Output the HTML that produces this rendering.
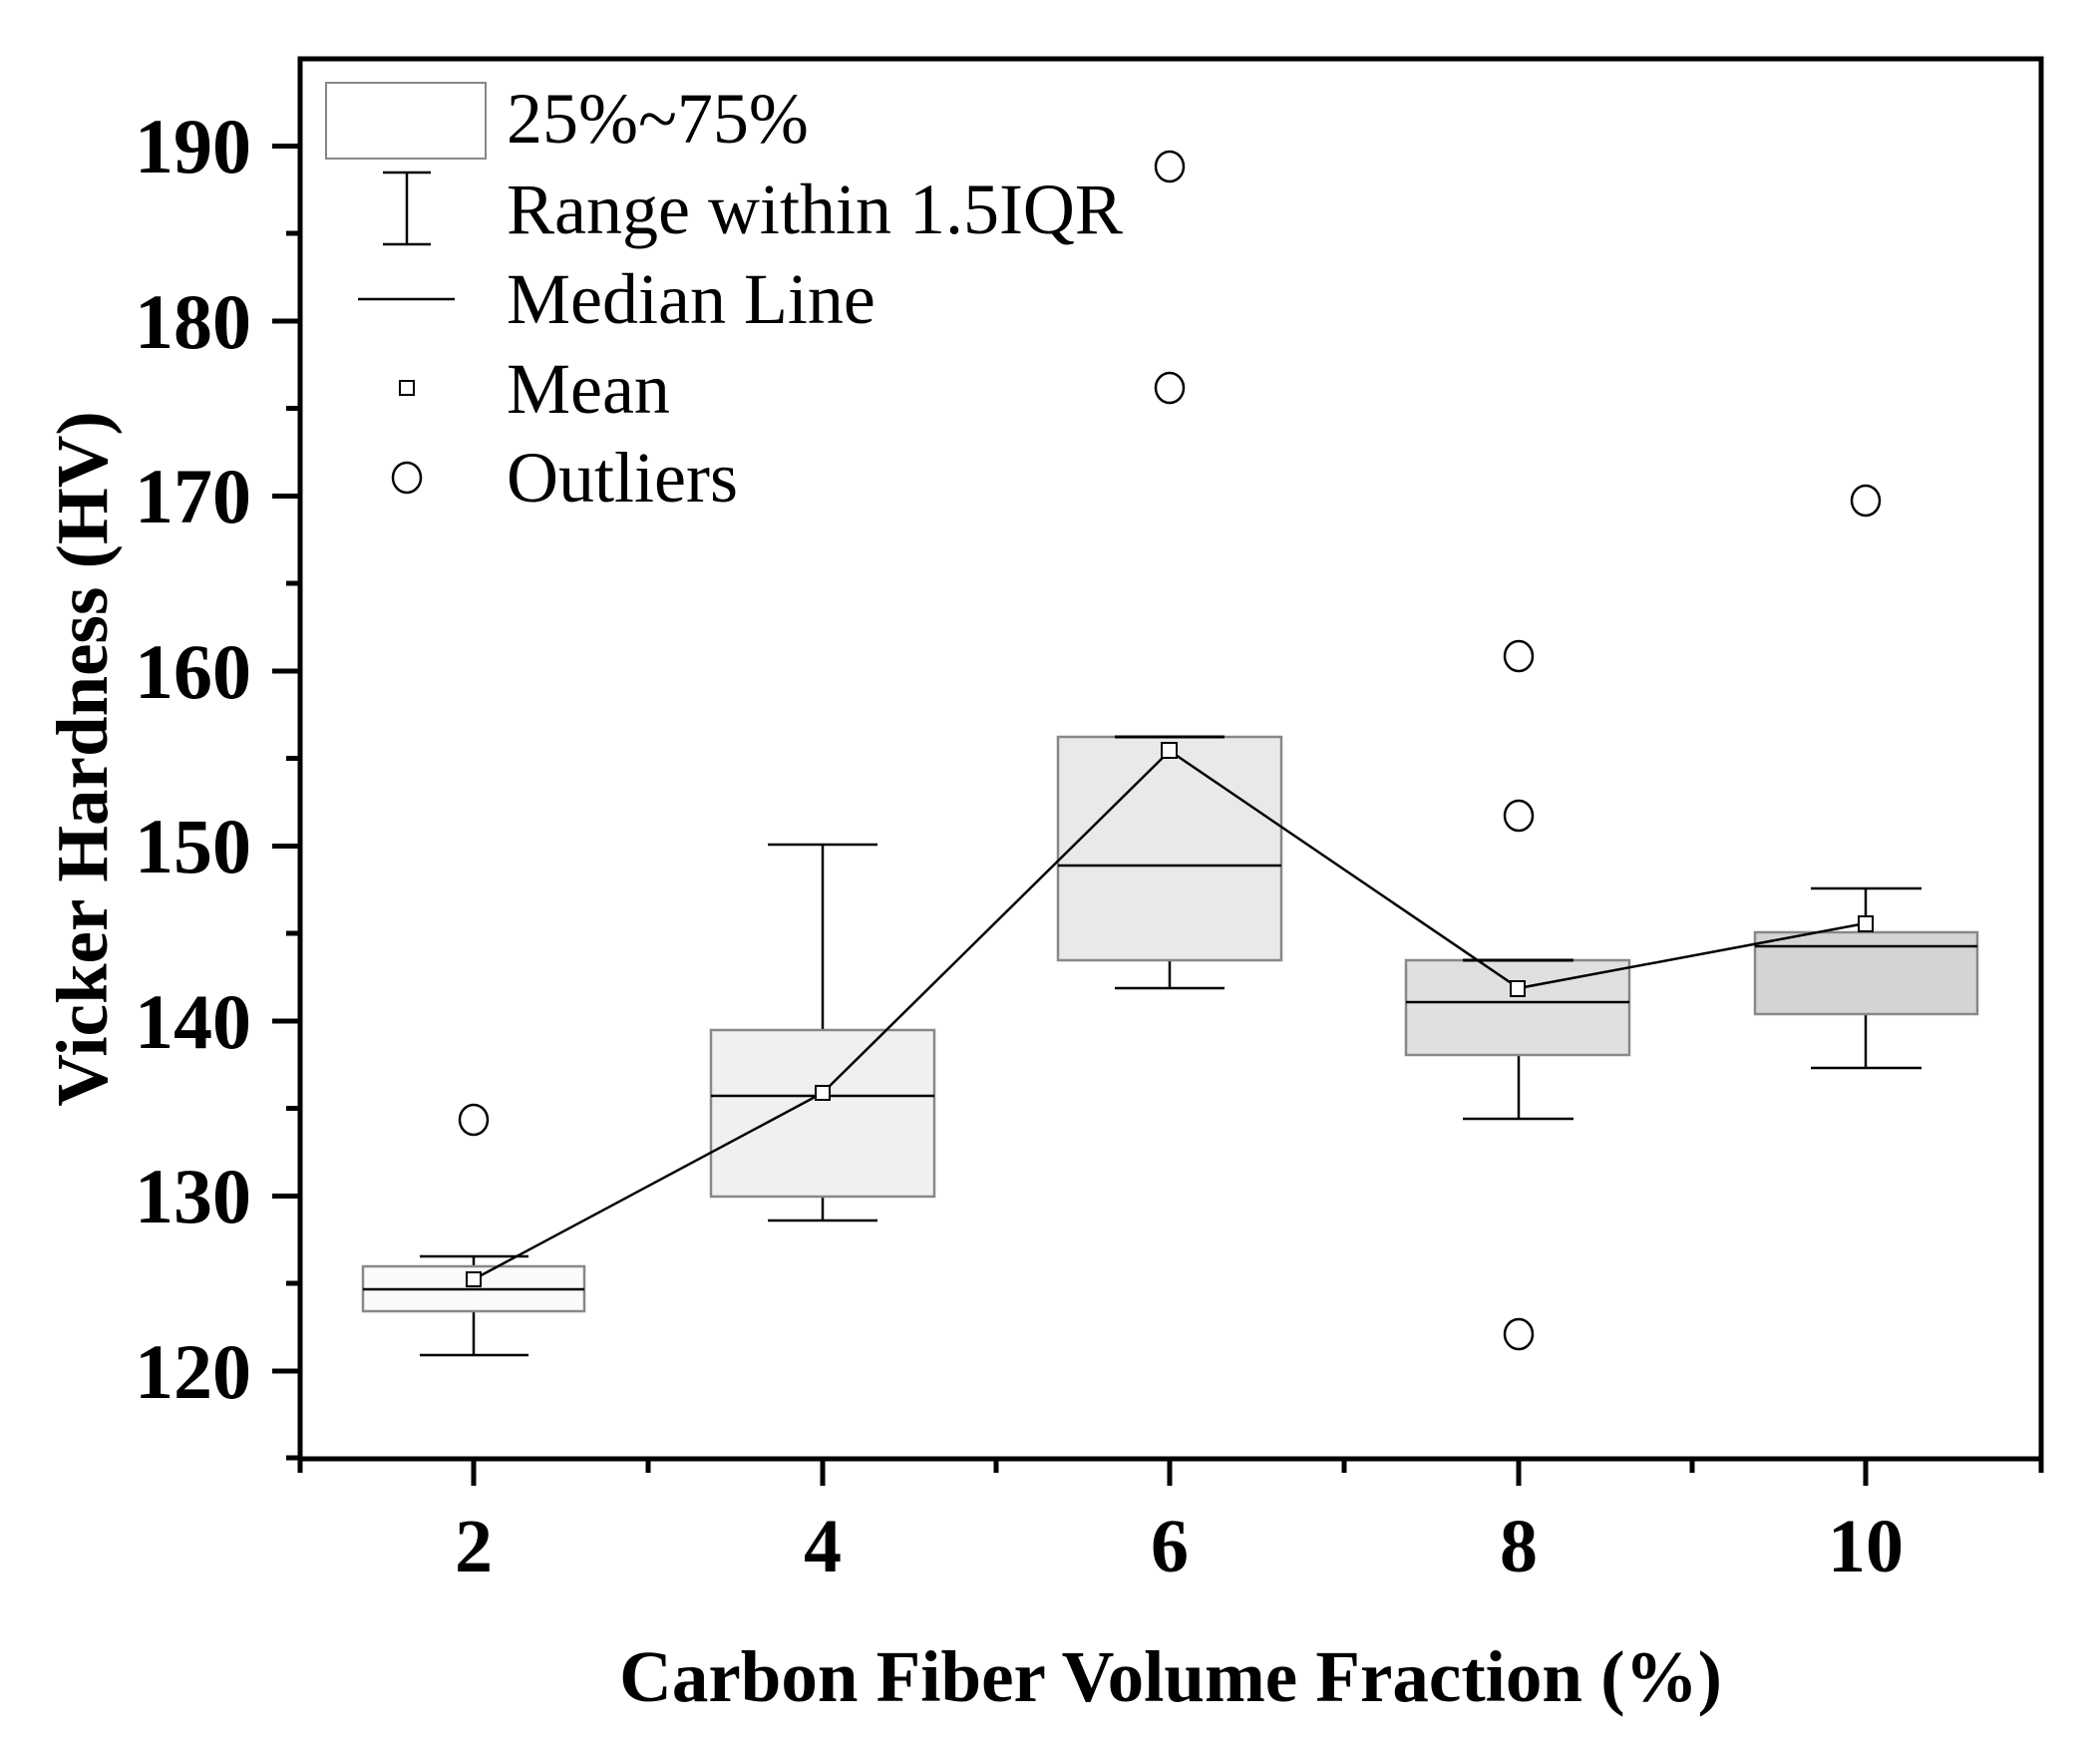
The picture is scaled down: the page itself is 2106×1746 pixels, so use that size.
<!DOCTYPE html>
<html><head><style>html,body{margin:0;padding:0;background:#fff}svg{display:block}</style></head>
<body>
<svg width="2106" height="1746" viewBox="0 0 2106 1746" xmlns="http://www.w3.org/2000/svg" font-family="Liberation Serif, serif">
<rect width="2106" height="1746" fill="#fff"/>
<g stroke="#000" stroke-width="2.5">
<line x1="475" y1="1260" x2="475" y2="1359"/>
<line x1="421" y1="1260" x2="530" y2="1260"/><line x1="421" y1="1359" x2="530" y2="1359"/>
<rect x="364" y="1270" width="222" height="45" fill="#fafafa" stroke="#888"/>
<line x1="364" y1="1293" x2="586" y2="1293"/>
<line x1="825" y1="847" x2="825" y2="1224"/>
<line x1="770" y1="847" x2="880" y2="847"/><line x1="770" y1="1224" x2="880" y2="1224"/>
<rect x="713" y="1033" width="224" height="167" fill="#f0f0f0" stroke="#888"/>
<line x1="713" y1="1099" x2="937" y2="1099"/>
<line x1="1173" y1="963" x2="1173" y2="991"/>
<line x1="1118" y1="991" x2="1228" y2="991"/>
<rect x="1061" y="739" width="224" height="224" fill="#e9e9e9" stroke="#888"/>
<line x1="1118" y1="739" x2="1228" y2="739" stroke-width="3"/>
<line x1="1061" y1="868" x2="1285" y2="868"/>
<line x1="1523" y1="1058" x2="1523" y2="1122"/>
<line x1="1467" y1="1122" x2="1578" y2="1122"/>
<rect x="1410" y="963" width="224" height="95" fill="#e0e0e0" stroke="#888"/>
<line x1="1467" y1="963" x2="1578" y2="963" stroke-width="3"/>
<line x1="1410" y1="1005" x2="1634" y2="1005"/>
<line x1="1871" y1="891" x2="1871" y2="935"/><line x1="1871" y1="1017" x2="1871" y2="1071"/>
<line x1="1816" y1="891" x2="1927" y2="891"/><line x1="1816" y1="1071" x2="1927" y2="1071"/>
<rect x="1760" y="935" width="223" height="82" fill="#d4d4d4" stroke="#888"/>
<line x1="1760" y1="949" x2="1983" y2="949"/>
</g>
<polyline points="475,1283 825,1096 1173,753 1523,991 1871,926" fill="none" stroke="#000" stroke-width="2.5"/>
<g fill="#fff" stroke="#000" stroke-width="2">
<rect x="468" y="1276" width="14" height="14"/>
<rect x="818" y="1089" width="14" height="14"/>
<rect x="1165" y="745" width="15" height="15"/>
<rect x="1515" y="984" width="14" height="15"/>
<rect x="1864" y="919" width="14" height="15"/>
</g>
<g fill="none" stroke="#000" stroke-width="2.5">
<ellipse cx="475" cy="1123" rx="14" ry="15"/>
<ellipse cx="1173" cy="167" rx="14" ry="15"/>
<ellipse cx="1173" cy="389" rx="14" ry="15"/>
<ellipse cx="1523" cy="658" rx="14" ry="15"/>
<ellipse cx="1523" cy="818" rx="14" ry="15"/>
<ellipse cx="1523" cy="1338" rx="14" ry="15"/>
<ellipse cx="1871" cy="502" rx="14" ry="15"/>
</g>
<rect x="301" y="59" width="1746" height="1404" fill="none" stroke="#000" stroke-width="5"/>
<g stroke="#000" stroke-width="5">
<line x1="273" y1="1375" x2="301" y2="1375"/><line x1="273" y1="1199.5" x2="301" y2="1199.5"/>
<line x1="273" y1="1024" x2="301" y2="1024"/><line x1="273" y1="848.5" x2="301" y2="848.5"/>
<line x1="273" y1="673" x2="301" y2="673"/><line x1="273" y1="497.5" x2="301" y2="497.5"/>
<line x1="273" y1="322" x2="301" y2="322"/><line x1="273" y1="146.5" x2="301" y2="146.5"/>
<line x1="287" y1="1287" x2="301" y2="1287"/><line x1="287" y1="1111.5" x2="301" y2="1111.5"/>
<line x1="287" y1="936" x2="301" y2="936"/><line x1="287" y1="760.5" x2="301" y2="760.5"/>
<line x1="287" y1="585" x2="301" y2="585"/><line x1="287" y1="409.5" x2="301" y2="409.5"/>
<line x1="287" y1="234" x2="301" y2="234"/><line x1="287" y1="1462" x2="301" y2="1462"/>
<line x1="475" y1="1463" x2="475" y2="1490"/><line x1="825" y1="1463" x2="825" y2="1490"/>
<line x1="1173" y1="1463" x2="1173" y2="1490"/><line x1="1523" y1="1463" x2="1523" y2="1490"/>
<line x1="1871" y1="1463" x2="1871" y2="1490"/>
<line x1="301" y1="1463" x2="301" y2="1477"/><line x1="650" y1="1463" x2="650" y2="1477"/>
<line x1="999" y1="1463" x2="999" y2="1477"/><line x1="1348" y1="1463" x2="1348" y2="1477"/>
<line x1="1697" y1="1463" x2="1697" y2="1477"/><line x1="2047" y1="1463" x2="2047" y2="1477"/>
</g>
<g font-weight="bold" font-size="78" text-anchor="end">
<text x="252" y="1402">120</text><text x="252" y="1226">130</text><text x="252" y="1051">140</text>
<text x="252" y="875">150</text><text x="252" y="700">160</text><text x="252" y="524">170</text>
<text x="252" y="349">180</text><text x="252" y="173">190</text>
</g>
<g font-weight="bold" font-size="76" text-anchor="middle">
<text x="475" y="1576">2</text><text x="825" y="1576">4</text><text x="1173" y="1576">6</text>
<text x="1523" y="1576">8</text><text x="1871" y="1576">10</text>
</g>
<text x="1174" y="1706" font-weight="bold" font-size="73" text-anchor="middle">Carbon Fiber Volume Fraction (%)</text>
<text transform="translate(107,761) rotate(-90)" font-weight="bold" font-size="73" text-anchor="middle">Vicker Hardness (HV)</text>
<rect x="327" y="83" width="160" height="76" fill="#fff" stroke="#888" stroke-width="2"/>
<g stroke="#000" stroke-width="2.5">
<line x1="408" y1="173" x2="408" y2="245"/><line x1="384" y1="173" x2="432" y2="173"/><line x1="384" y1="245" x2="432" y2="245"/>
<line x1="359" y1="300" x2="456" y2="300"/>
</g>
<rect x="401" y="382" width="14" height="14" fill="#fff" stroke="#000" stroke-width="2"/>
<ellipse cx="408" cy="479" rx="14" ry="15" fill="none" stroke="#000" stroke-width="2.5"/>
<g font-size="72">
<text x="508" y="143">25%~75%</text>
<text x="508" y="234">Range within 1.5IQR</text>
<text x="508" y="324">Median Line</text>
<text x="508" y="414">Mean</text>
<text x="508" y="503">Outliers</text>
</g>
</svg>
</body></html>
